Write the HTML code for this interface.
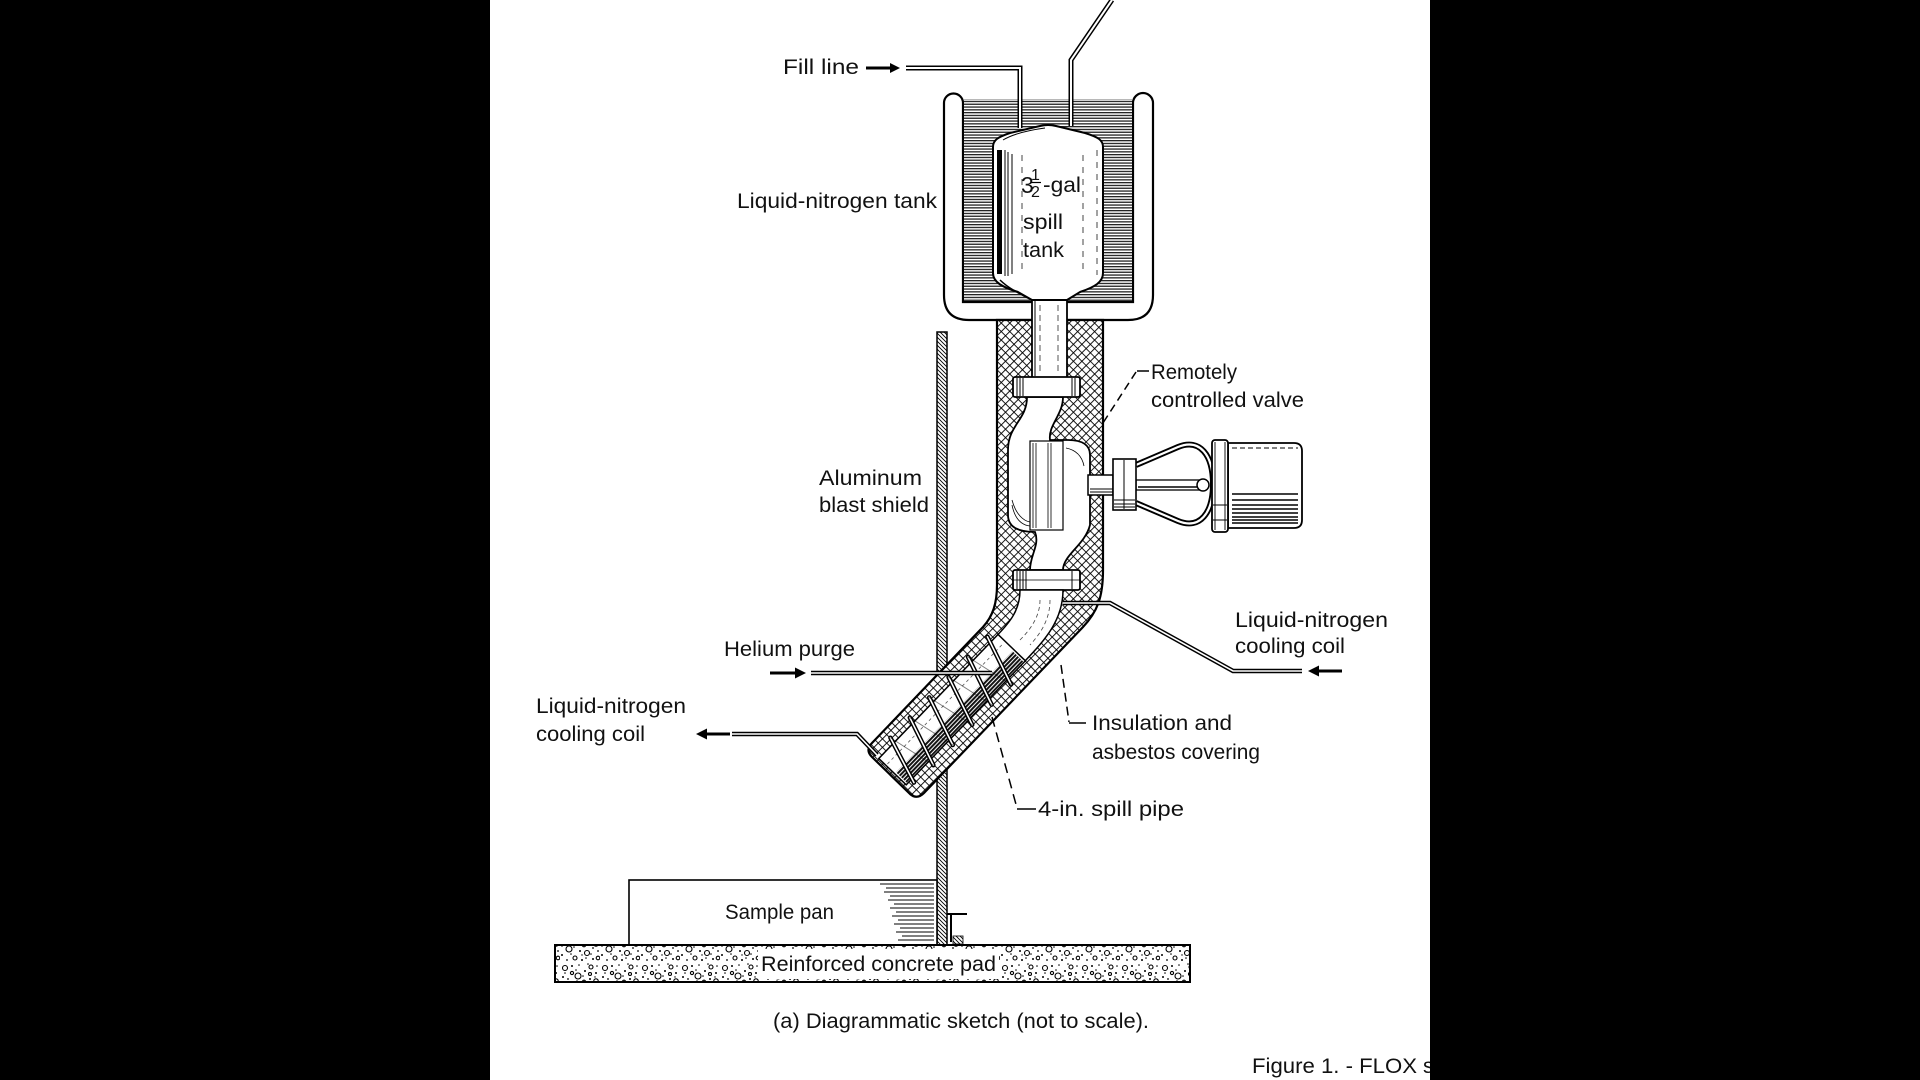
<!DOCTYPE html>
<html>
<head>
<meta charset="utf-8">
<style>
  html,body{margin:0;padding:0;background:#000;}
  svg{display:block;}
  text{font-family:"Liberation Sans",Arial,sans-serif;font-size:21px;fill:#111;}
</style>
</head>
<body>
<svg width="1920" height="1080" viewBox="0 0 1920 1080" xmlns="http://www.w3.org/2000/svg">
  <defs>
    <pattern id="xh" width="6" height="6" patternUnits="userSpaceOnUse" patternTransform="rotate(45)">
      <rect width="6" height="6" fill="#fff"/>
      <path d="M0,0 H6 M0,0 V6" stroke="#000" stroke-width="1.8"/>
    </pattern>
    <pattern id="hz" width="6" height="2.8" patternUnits="userSpaceOnUse">
      <rect width="6" height="2.8" fill="#fff"/>
      <rect y="0" width="6" height="1.3" fill="#222"/>
    </pattern>
    <pattern id="sh" width="4" height="4" patternUnits="userSpaceOnUse">
      <rect width="4" height="4" fill="#fff"/>
      <path d="M0,0 L4,4 M-1,3 L1,5 M3,-1 L5,1" stroke="#000" stroke-width="0.9"/>
    </pattern>
    <pattern id="dk" width="10" height="3" patternUnits="userSpaceOnUse">
      <rect width="10" height="3" fill="#fff"/>
      <rect width="10" height="2" fill="#111"/>
    </pattern>
    <pattern id="pad" width="40" height="37" patternUnits="userSpaceOnUse">
      <rect width="40" height="37" fill="#fff"/>
      <g fill="none" stroke="#000" stroke-width="1.1">
        <circle cx="5" cy="6" r="2.5"/><circle cx="18" cy="14" r="3"/><circle cx="31" cy="5" r="2"/>
        <circle cx="9" cy="24" r="3"/><circle cx="27" cy="28" r="2.5"/><circle cx="36" cy="19" r="2.2"/>
        <circle cx="15" cy="33" r="2"/><circle cx="24" cy="20" r="1.8"/><circle cx="38" cy="33" r="1.8"/>
        <circle cx="12" cy="11" r="1.6"/><circle cx="30" cy="12" r="1.5"/>
      </g>
      <g fill="#000">
        <circle cx="12" cy="4" r="1"/><circle cx="25" cy="9" r="1"/><circle cx="36" cy="11" r="1"/>
        <circle cx="3" cy="15" r="1"/><circle cx="8" cy="17" r="0.9"/><circle cx="30" cy="17" r="1"/>
        <circle cx="20" cy="26" r="1"/><circle cx="2" cy="30" r="1"/><circle cx="33" cy="34" r="1"/>
        <circle cx="38" cy="26" r="0.9"/><circle cx="7" cy="35" r="0.9"/><circle cx="22" cy="35" r="1"/>
        <circle cx="16" cy="8" r="0.8"/><circle cx="28" cy="2" r="0.8"/><circle cx="14" cy="22" r="0.8"/>
        <circle cx="33" cy="23" r="0.9"/><circle cx="5" cy="11" r="0.8"/><circle cx="23" cy="14" r="0.8"/>
        <circle cx="19" cy="3" r="0.8"/><circle cx="37" cy="4" r="0.8"/><circle cx="2" cy="21" r="0.8"/>
        <circle cx="17" cy="19" r="0.8"/><circle cx="26" cy="33" r="0.8"/><circle cx="11" cy="29" r="0.8"/>
        <circle cx="31" cy="29" r="0.8"/><circle cx="22" cy="30" r="0.7"/><circle cx="35" cy="15" r="0.7"/>
      </g>
    </pattern>
  </defs>

  <!-- background -->
  <rect x="0" y="0" width="1920" height="1080" fill="#000"/>
  <rect x="490" y="0" width="940" height="1080" fill="#fff"/>

  <!-- aluminum blast shield -->
  <rect x="937" y="332" width="10" height="613" fill="url(#sh)" stroke="#000" stroke-width="1.5"/>

  <!-- LN2 tank (U) -->
  <path d="M944,103 A9.5,9.5 0 0 1 963,103 L963,302 L1133,302 L1133,103 A10,10 0 0 1 1153,103 L1153,295 Q1153,320 1128,320 L969,320 Q944,320 944,295 Z" fill="#fff" stroke="#000" stroke-width="2.2"/>
  <rect x="964" y="99" width="168" height="202" fill="url(#hz)"/>

  <!-- insulation column / bend / diagonal -->
  <path d="M997,320 L1103,320 L1103,570 C1103,598 1097,612 1083,627 L924,793 Q917,800 910,794 L872,757 Q865,750 872,743 L983,627 C993,616 997,603 997,585 Z" fill="url(#xh)" stroke="#000" stroke-width="2.2"/>

  <!-- neck pipe -->
  <rect x="1032" y="298" width="35" height="80" fill="#fff" stroke="#000" stroke-width="1.8"/>
  <path d="M1040,305 V375 M1058,305 V375" stroke="#555" stroke-width="1" stroke-dasharray="6 4"/>
  <path d="M1035,300 V376" stroke="#000" stroke-width="1"/>

  <!-- valve body -->
  <path d="M1027,397 C1027,420 1008,425 1008,450 L1008,515 C1008,528 1020,532 1035,532 C1040,545 1030,555 1030,570 L1063,570 C1063,555 1085,545 1090,525 L1090,455 C1090,445 1082,440 1068,440 L1050,440 C1048,425 1063,415 1063,397 Z" fill="#fff" stroke="#000" stroke-width="1.8"/>
  <rect x="1030" y="441" width="33" height="89" fill="#fff" stroke="#000" stroke-width="1.2"/>
  <path d="M1033,443 V528 M1036,443 V528 M1048,443 V528 M1051,443 V528" stroke="#000" stroke-width="0.8"/>
  <path d="M1012,505 C1015,520 1022,525 1030,526 M1012,500 C1016,515 1024,521 1030,522" stroke="#000" stroke-width="0.8" fill="none"/>
  <path d="M1066,448 C1076,450 1082,456 1084,466" stroke="#000" stroke-width="0.8" fill="none"/>

  <!-- flanges -->
  <rect x="1013" y="377" width="67" height="20" rx="2" fill="#fff" stroke="#000" stroke-width="1.8"/>
  <path d="M1017,378 V396 M1020,378 V396 M1023,378 V396 M1072,378 V396 M1075,378 V396" stroke="#000" stroke-width="1"/>
  <rect x="1013" y="570" width="67" height="20" rx="2" fill="#fff" stroke="#000" stroke-width="1.8"/>
  <path d="M1017,571 V589 M1020,571 V589 M1023,571 V589 M1026,571 V589 M1072,571 V589" stroke="#000" stroke-width="1"/>
  <path d="M1013,580 H1080" stroke="#000" stroke-width="0.8"/>

  <!-- bend pipe -->
  <path d="M1020,590 C1020,610 1010,622 998,634.5 L1025,661 C1045,640 1063,620 1063,590 Z" fill="#fff" stroke="#000" stroke-width="1.5"/>
  <path d="M1040,600 C1040,615 1032,628 1020,640 M1050,600 C1050,618 1042,632 1030,645" stroke="#444" stroke-width="0.8" fill="none" stroke-dasharray="4 3"/>

  <!-- diagonal pipe with coil (local coords) -->
  <g transform="matrix(-0.693 0.721 0.721 0.693 983 627)">
    <rect x="-5" y="16" width="172" height="38" fill="#fff" stroke="#000" stroke-width="1.5"/>
    <rect x="-3" y="38" width="168" height="15" fill="url(#dk)"/>
    <path d="M0,26 H165" stroke="#555" stroke-width="0.8" stroke-dasharray="3 3"/>
    <g fill="none" stroke-linecap="round">
      <path d="M4,10 L22,60 M32,10 L50,60 M60,10 L78,60 M88,10 L106,60 M116,10 L134,60 M144,10 L160,58" stroke="#000" stroke-width="4.5"/>
      <path d="M4,10 L22,60 M32,10 L50,60 M60,10 L78,60 M88,10 L106,60 M116,10 L134,60 M144,10 L160,58" stroke="#fff" stroke-width="1.6"/>
      <path d="M22,60 L32,10 M50,60 L60,10 M78,60 L88,10 M106,60 L116,10 M134,60 L144,10" stroke="#000" stroke-width="1" opacity="0.5"/>
    </g>
  </g>

  <!-- spill tank bottle -->
  <path d="M993,147 C993,140 998,137 1010,133 L1040,126 Q1048,124 1056,126 L1085,133 C1098,137 1103,140 1103,147 L1103,273 C1103,282 1095,287 1080,292 L1067,300 L1032,300 L1018,292 C1002,287 993,282 993,273 Z" fill="#fff" stroke="#000" stroke-width="2"/>
  <rect x="997" y="150" width="5" height="124" fill="#000"/>
  <path d="M1005,150 V276 M1008,152 V276 M1012,154 V274" stroke="#000" stroke-width="1"/>
  <path d="M1022,155 V275 M1083,155 V275 M1097,150 V275" stroke="#444" stroke-width="1" stroke-dasharray="6 6"/>
  <path d="M1000,280 C1008,288 1020,294 1032,300" stroke="#000" stroke-width="1.5" fill="none"/>
  <path d="M1003,140 C1015,133 1030,130 1045,128" stroke="#000" stroke-width="1" fill="none"/>

  <!-- fill line pipes -->
  <path d="M906,68 L1020,68 L1020,128" fill="none" stroke="#000" stroke-width="5"/>
  <path d="M906,68 L1020,68 L1020,128" fill="none" stroke="#fff" stroke-width="2"/>
  <path d="M1071,126 L1071,60 L1112,0" fill="none" stroke="#000" stroke-width="5"/>
  <path d="M1071,126 L1071,60 L1112,0" fill="none" stroke="#fff" stroke-width="2"/>
  <!-- fill arrow -->
  <rect x="866" y="66.5" width="28" height="3" fill="#000"/>
  <polygon points="900,68 890,63 890,73" fill="#000"/>

  <!-- actuator -->
  <rect x="1088" y="475" width="25" height="20" fill="#fff" stroke="#000" stroke-width="1.5"/>
  <path d="M1090,489 H1113 M1090,492 H1113" stroke="#000" stroke-width="1"/>
  <path d="M1136,465 L1178,447 C1200,438 1213,455 1213,484 C1213,513 1200,530 1178,521 L1136,503" fill="none" stroke="#000" stroke-width="6"/>
  <path d="M1136,465 L1178,447 C1200,438 1213,455 1213,484 C1213,513 1200,530 1178,521 L1136,503" fill="none" stroke="#fff" stroke-width="2.2"/>
  <rect x="1136" y="480" width="64" height="10" fill="#fff" stroke="#000" stroke-width="1.3"/>
  <path d="M1138,487 H1198" stroke="#000" stroke-width="1.5"/>
  <circle cx="1203" cy="485" r="6" fill="#fff" stroke="#000" stroke-width="1.5"/>
  <rect x="1113" y="459" width="23" height="51" fill="#fff" stroke="#000" stroke-width="1.6"/>
  <path d="M1124,460 V509 M1114,500 H1135 M1114,504 H1135 M1114,507 H1135" stroke="#000" stroke-width="1"/>
  <path d="M1228,443 L1294,443 Q1302,443 1302,451 L1302,520 Q1302,528 1294,528 L1228,528 Z" fill="#fff" stroke="#000" stroke-width="1.8"/>
  <path d="M1232,448 H1298" stroke="#000" stroke-width="1" stroke-dasharray="5 3"/>
  <path d="M1232,494 H1298 M1232,500 H1298 M1232,505 H1298 M1232,509 H1298 M1232,513 H1298 M1232,517 H1298 M1232,520 H1298 M1232,523 H1298" stroke="#000" stroke-width="1.6"/>
  <rect x="1212" y="440" width="16" height="92" rx="3" fill="#fff" stroke="#000" stroke-width="1.8"/>
  <path d="M1215,442 V530 M1225,442 V530 M1213,505 H1227 M1213,520 H1227" stroke="#000" stroke-width="0.9"/>

  <!-- right LN2 coil line -->
  <path d="M1063,603 L1110,603 L1233,671 L1302,671" fill="none" stroke="#000" stroke-width="4.5"/>
  <path d="M1063,603 L1110,603 L1233,671 L1302,671" fill="none" stroke="#fff" stroke-width="1.6"/>
  <rect x="1316" y="669.5" width="26" height="3" fill="#000"/>
  <polygon points="1308,671 1319,665.5 1319,676.5" fill="#000"/>

  <!-- helium purge line -->
  <path d="M811,673 L992,673" fill="none" stroke="#000" stroke-width="4.5"/>
  <path d="M811,673 L992,673" fill="none" stroke="#fff" stroke-width="1.6"/>
  <rect x="770" y="671.5" width="28" height="3" fill="#000"/>
  <polygon points="806,673 795,667.5 795,678.5" fill="#000"/>

  <!-- left LN2 coil line -->
  <path d="M877,755 L857,734 L732,734" fill="none" stroke="#000" stroke-width="4.5"/>
  <path d="M877,755 L857,734 L732,734" fill="none" stroke="#fff" stroke-width="1.6"/>
  <rect x="704" y="732.5" width="26" height="3" fill="#000"/>
  <polygon points="696,734 707,728.5 707,739.5" fill="#000"/>

  <!-- leaders -->
  <path d="M1149,371 L1137,371" stroke="#000" stroke-width="1.5"/>
  <path d="M1136,372 L1101,426" stroke="#000" stroke-width="1.5" stroke-dasharray="8 5"/>
  <path d="M1061,665 L1069,722" stroke="#000" stroke-width="1.5" stroke-dasharray="9 5"/>
  <path d="M1069,723 L1086,723" stroke="#000" stroke-width="1.5"/>
  <path d="M992,717 L1017,808" stroke="#000" stroke-width="1.5" stroke-dasharray="10 6"/>
  <path d="M1017,809 L1036,809" stroke="#000" stroke-width="1.5"/>

  <!-- sample pan -->
  <rect x="629" y="880" width="308" height="65" fill="#fff" stroke="#000" stroke-width="1.6"/>
  <g stroke="#000" stroke-width="1">
    <path d="M880,884 H934 M886,888 H934 M884,892 H934 M890,896 H934 M888,900 H934 M894,904 H934 M890,908 H934 M896,912 H934 M892,916 H934 M898,920 H934 M894,924 H934 M900,928 H934 M896,932 H934 M902,936 H934 M898,940 H934"/>
  </g>
  <!-- bracket -->
  <path d="M947,914 L967,914 M951,914 L951,942" stroke="#000" stroke-width="2"/>
  <rect x="953" y="936" width="10" height="8" fill="url(#sh)" stroke="#000" stroke-width="0.8"/>

  <!-- concrete pad -->
  <rect x="555" y="945" width="635" height="37" fill="url(#pad)" stroke="#000" stroke-width="2"/>
  <rect x="758" y="949" width="241" height="30" fill="#fff"/>

  <!-- text -->
  <text x="783" y="74" textLength="76" lengthAdjust="spacingAndGlyphs">Fill line</text>
  <text x="737" y="208" textLength="200" lengthAdjust="spacingAndGlyphs">Liquid-nitrogen tank</text>
  <text x="1021" y="193" style="font-size:23px">3</text>
  <text x="1031" y="180" style="font-size:16px">1</text>
  <path d="M1031,182.5 H1041" stroke="#000" stroke-width="1.2"/>
  <text x="1031" y="197" style="font-size:16px">2</text>
  <text x="1043" y="192" textLength="38" lengthAdjust="spacingAndGlyphs">-gal</text>
  <text x="1023" y="229" textLength="40" lengthAdjust="spacingAndGlyphs">spill</text>
  <text x="1023" y="257" textLength="41" lengthAdjust="spacingAndGlyphs">tank</text>
  <text x="1151" y="379" textLength="86" lengthAdjust="spacingAndGlyphs">Remotely</text>
  <text x="1151" y="407" textLength="153" lengthAdjust="spacingAndGlyphs">controlled valve</text>
  <text x="819" y="485" textLength="103" lengthAdjust="spacingAndGlyphs">Aluminum</text>
  <text x="819" y="512" textLength="110" lengthAdjust="spacingAndGlyphs">blast shield</text>
  <text x="1235" y="627" textLength="153" lengthAdjust="spacingAndGlyphs">Liquid-nitrogen</text>
  <text x="1235" y="653" textLength="110" lengthAdjust="spacingAndGlyphs">cooling coil</text>
  <text x="724" y="656" textLength="131" lengthAdjust="spacingAndGlyphs">Helium purge</text>
  <text x="536" y="713" textLength="150" lengthAdjust="spacingAndGlyphs">Liquid-nitrogen</text>
  <text x="536" y="741" textLength="109" lengthAdjust="spacingAndGlyphs">cooling coil</text>
  <text x="1092" y="730" textLength="140" lengthAdjust="spacingAndGlyphs">Insulation and</text>
  <text x="1092" y="759" textLength="168" lengthAdjust="spacingAndGlyphs">asbestos covering</text>
  <text x="1038" y="816" textLength="146" lengthAdjust="spacingAndGlyphs">4-in. spill pipe</text>
  <text x="725" y="919" textLength="109" lengthAdjust="spacingAndGlyphs">Sample pan</text>
  <text x="761" y="971" textLength="235" lengthAdjust="spacingAndGlyphs">Reinforced concrete pad</text>
  <text x="773" y="1028" textLength="376" lengthAdjust="spacingAndGlyphs">(a) Diagrammatic sketch (not to scale).</text>
  <text x="1252" y="1073" textLength="165" lengthAdjust="spacingAndGlyphs">Figure 1. - FLOX</text>
  <text x="1423" y="1073">s</text>

  <!-- right black band (clips caption) -->
  <rect x="1430" y="0" width="490" height="1080" fill="#000"/>
</svg>
</body>
</html>
